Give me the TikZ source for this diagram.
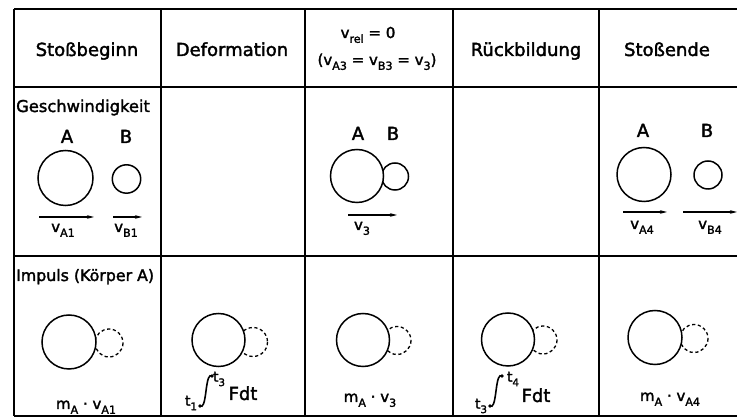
\documentclass[tikz,border=0pt]{standalone}
\usepackage{fontspec}
\setmainfont{DejaVu Sans}[FakeBold=2]
\usetikzlibrary{arrows.meta}
\newcommand\sbx[1]{\raisebox{-0.32em}{\scalebox{0.74}{#1}}}
\begin{document}
\begin{tikzpicture}[x=1pt,y=-1pt,
  grid/.style={line width=1.6pt},
  ball/.style={line width=1.5pt},
  ghost/.style={line width=1.3pt, dash pattern=on 3.2pt off 2.6pt},
  vel/.style={line width=1.4pt,-{Stealth[length=7pt,width=3.6pt]}},
  head/.style={font=\fontsize{18}{21}\selectfont, inner sep=0pt},
  small/.style={font=\fontsize{15}{17}\selectfont, inner sep=0pt},
  lab/.style={font=\fontsize{15}{18}\selectfont, inner sep=0pt},
  rowlab/.style={font=\fontsize{16.3}{19}\selectfont, inner sep=0pt},
  letter/.style={font=\fontsize{18}{21}\selectfont, inner sep=0pt},
  tlab/.style={font=\fontsize{14}{16}\selectfont, inner sep=0pt},
  integral/.pic={
    \draw[line width=1.6pt] (0,0) .. controls (3,2) and (4.5,-3) .. (6,-15)
      .. controls (7.5,-27) and (9,-32) .. (12,-30);
    \fill (0,0) circle (1.8);
    \fill (12,-30) circle (1.8);
  }]
\useasboundingbox (0,0) rectangle (737,419);
% table grid
\draw[grid] (14,9) -- (737,9);
\draw[grid] (14,87) -- (737,87);
\draw[grid] (14,256) -- (737,256);
\draw[grid] (14,416) -- (737,416);
\foreach \xx in {14,161,305,453,599}
  \draw[grid] (\xx,9) -- (\xx,416);
% header
\node[head, anchor=base] (h1) at (87,56) {Stoßbeginn};
\node[head, anchor=base] (h2) at (232,56) {Deformation};
\node[small, anchor=base] (h3a) at (368,38) {v\sbx{rel} = 0};
\node[small, anchor=base] (h3b) at (377,65) {(v\sbx{A3} = v\sbx{B3} = v\sbx{3})};
\node[head, anchor=base] (h4) at (526,56) {Rückbildung};
\node[head, anchor=base] (h5) at (667,56) {Stoßende};
% row labels
\node[rowlab, anchor=base west] (r2) at (16,112) {Geschwindigkeit};
\node[rowlab, anchor=base west, font=\fontsize{15.8}{18}\selectfont] (r3) at (16,281) {Impuls (Körper A)};
% row 2, column 1
\node[letter, anchor=base] (a1) at (67,143) {A};
\node[letter, anchor=base] (b1) at (126,143) {B};
\draw[ball] (65.5,178) circle (27.5);
\draw[ball] (126.5,179) circle (14.2);
\draw[vel] (39,217) -- (94,217);
\draw[vel] (113,217) -- (142,217);
\node[lab, anchor=base] (va1) at (63,232) {v\sbx{A1}};
\node[lab, anchor=base] (vb1) at (126,232) {v\sbx{B1}};
% row 2, column 3
\node[letter, anchor=base] (a3) at (358,140) {A};
\node[letter, anchor=base] (b3) at (393,140) {B};
\draw[ball] (395,176.5) circle (13.5);
\draw[ball, fill=white] (357,176) circle (26.5);
\draw[vel] (348,215) -- (397,215);
\node[lab, anchor=base] (v3) at (362,230) {v\sbx{3}};
% row 2, column 5
\node[letter, anchor=base] (a5) at (643,137) {A};
\node[letter, anchor=base] (b5) at (707,137) {B};
\draw[ball] (644,174.5) circle (27);
\draw[ball] (708,175) circle (14);
\draw[vel] (623,212) -- (667,212);
\draw[vel] (683,212) -- (737,212);
\node[lab, anchor=base] (va4) at (642,229) {v\sbx{A4}};
\node[lab, anchor=base] (vb4) at (710,229) {v\sbx{B4}};
% row 3, column 1
\draw[ghost] (109,343) circle (14);
\draw[ball, fill=white] (69,342) circle (27);
\node[lab, anchor=base] (p1) at (86,409) {m\sbx{A} · v\sbx{A1}};
% row 3, column 2
\draw[ghost] (253,342) circle (14.5);
\draw[ball, fill=white] (218.5,340) circle (26.5);
\pic at (200,406) {integral};
\node[tlab] (t1) at (191,403) {t\sbx{1}};
\node[tlab] (t3a) at (219,379) {t\sbx{3}};
\node[head, anchor=base] (f1) at (243,400) {Fdt};
% row 3, column 4
\draw[ghost] (543,340) circle (14);
\draw[ball, fill=white] (508,339.5) circle (26.5);
\pic at (490,406) {integral};
\node[tlab] (t3b) at (481,406) {t\sbx{3}};
\node[tlab] (t4) at (513,379) {t\sbx{4}};
\node[head, anchor=base] (f2) at (536,402) {Fdt};
% row 3, column 3
\draw[ghost] (397,340.5) circle (14);
\draw[ball, fill=white] (363,340) circle (26.5);
\node[lab, anchor=base] (p3) at (370,402) {m\sbx{A} · v\sbx{3}};
% row 3, column 5
\draw[ghost] (694,338.5) circle (14);
\draw[ball, fill=white] (655,337.5) circle (27);
\node[lab, anchor=base] (p5) at (670,401) {m\sbx{A} · v\sbx{A4}};
\end{tikzpicture}
\end{document}
